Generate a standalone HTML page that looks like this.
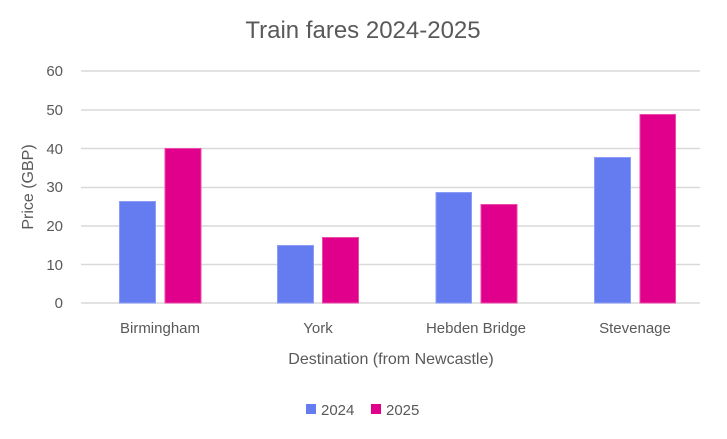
<!DOCTYPE html>
<html><head><style>body{margin:0;background:#fff}</style></head><body>
<svg width="727" height="434" xmlns="http://www.w3.org/2000/svg" font-family="Liberation Sans, sans-serif">
<rect width="727" height="434" fill="#fff"/>
<text x="363" y="38" text-anchor="middle" font-size="24" fill="#595959">Train fares 2024-2025</text>
<g stroke="#d9d9d9" stroke-width="1.5">
<line x1="81" x2="700" y1="71" y2="71"/><line x1="81" x2="700" y1="110" y2="110"/>
<line x1="81" x2="700" y1="148.5" y2="148.5"/><line x1="81" x2="700" y1="187.5" y2="187.5"/>
<line x1="81" x2="700" y1="226" y2="226"/><line x1="81" x2="700" y1="264.5" y2="264.5"/>
<line x1="81" x2="700" y1="303" y2="303"/></g>
<g font-size="15" fill="#595959" text-anchor="end">
<text x="63" y="76">60</text><text x="63" y="115">50</text><text x="63" y="154">40</text>
<text x="63" y="192">30</text><text x="63" y="231">20</text><text x="63" y="270">10</text><text x="63" y="308">0</text></g>
<g stroke="#8a9cf5" fill="#657cf0">
<rect x="119.5" y="201.5" width="36" height="101.5"/><rect x="277.5" y="245.5" width="36" height="57.5"/>
<rect x="436" y="192.5" width="35.5" height="110.5"/><rect x="594.5" y="157.5" width="36" height="145.5"/></g>
<g stroke="#ea4ba8" fill="#e0008c">
<rect x="165" y="148.5" width="36" height="154.5"/><rect x="322.5" y="237.5" width="36" height="65.5"/>
<rect x="481" y="204.5" width="36" height="98.5"/><rect x="640" y="114.5" width="35.5" height="188.5"/></g>
<g font-size="15" fill="#595959" text-anchor="middle">
<text x="160" y="333">Birmingham</text><text x="318" y="333">York</text>
<text x="476" y="333">Hebden Bridge</text><text x="635" y="333">Stevenage</text>
<text x="391" y="364" font-size="16">Destination (from Newcastle)</text>
<text transform="translate(33,187) rotate(-90)" font-size="16">Price (GBP)</text></g>
<rect x="306" y="404" width="10" height="10" fill="#657cf0"/>
<text x="321" y="415" font-size="15" fill="#595959">2024</text>
<rect x="371" y="404" width="10" height="10" fill="#e0008c"/>
<text x="386" y="415" font-size="15" fill="#595959">2025</text>
</svg>
</body></html>
